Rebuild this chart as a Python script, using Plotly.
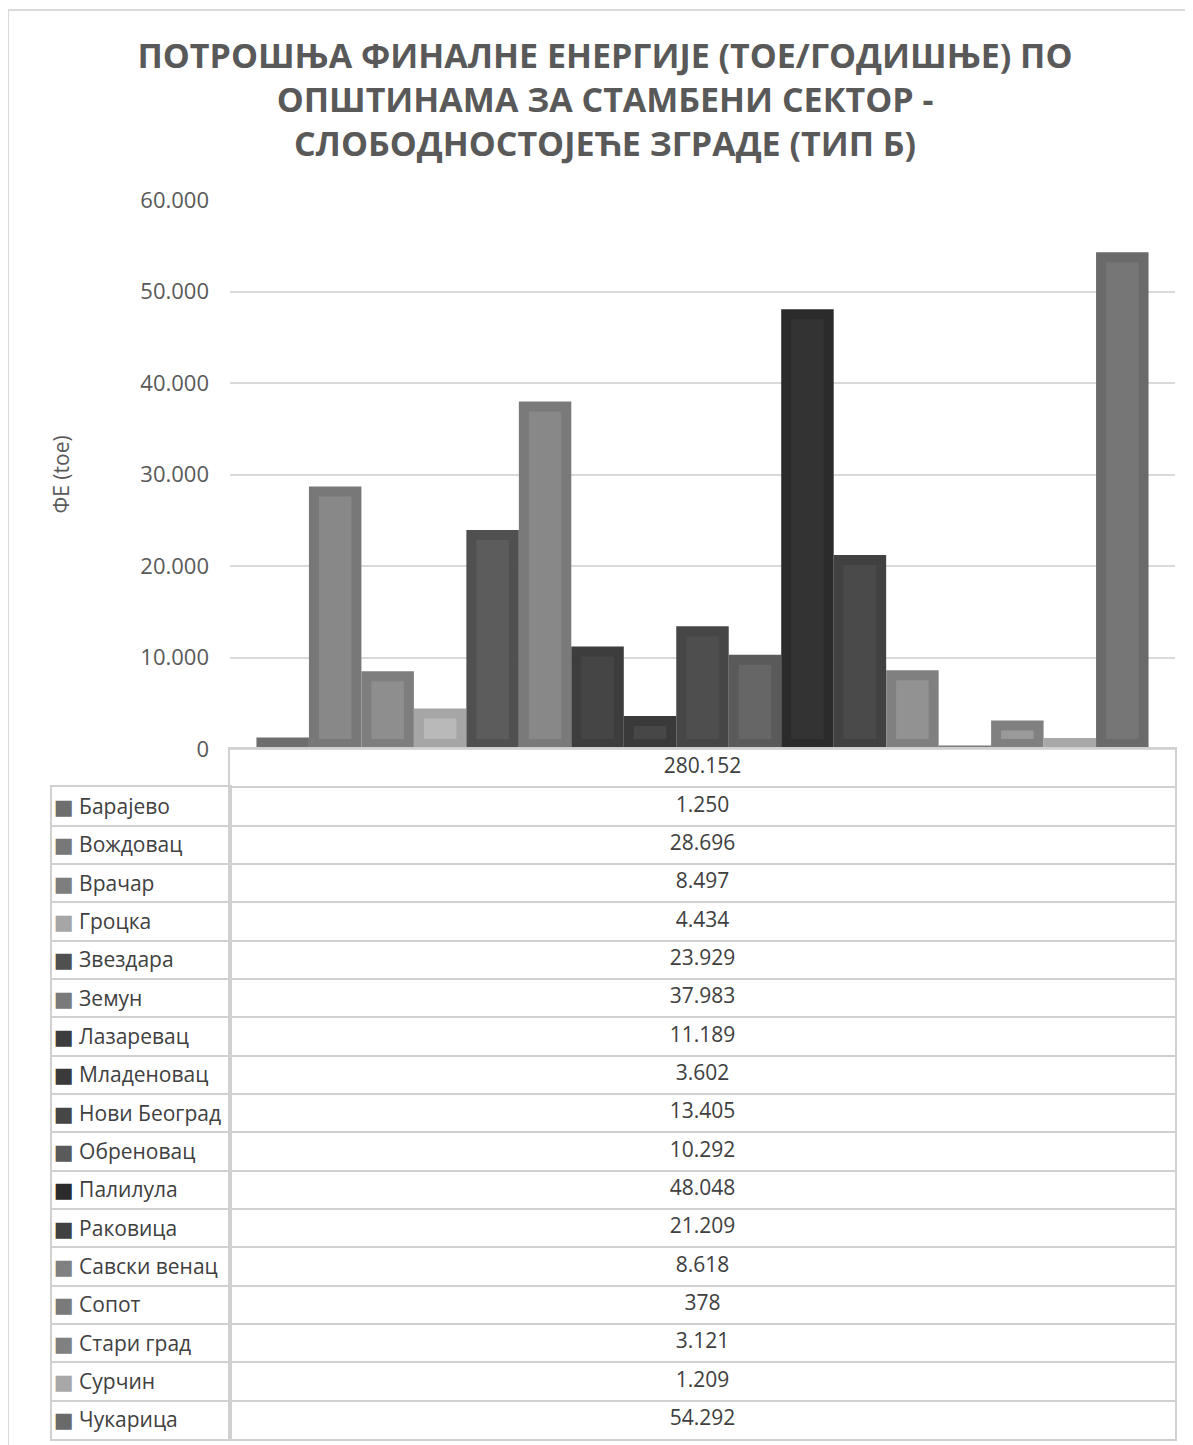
"""
Final energy consumption by municipality - detached houses (type B)
"""

import plotly.graph_objects as go

# =======================================
# Data
# =======================================

CATEGORY = "280.152"

MUNICIPALITIES = [
    "Барајево", "Вождовац", "Врачар", "Гроцка", "Звездара", "Земун",
    "Лазаревац", "Младеновац", "Нови Београд", "Обреновац", "Палилула",
    "Раковица", "Савски венац", "Сопот", "Стари град", "Сурчин", "Чукарица",
]

CONSUMPTION_TOE = [
    1250, 28696, 8497, 4434, 23929, 37983, 11189, 3602, 13405,
    10292, 48048, 21209, 8618, 378, 3121, 1209, 54292,
]

Y_TICKS = [0, 10000, 20000, 30000, 40000, 50000, 60000]

# frame colour and fill colour of each bar
EDGE_COLORS = [
    "#6e6e6e", "#787878", "#7e7e7e", "#a6a6a6", "#505050", "#7a7a7a",
    "#3d3d3d", "#3a3a3a", "#464646", "#5a5a5a", "#2b2b2b", "#414141",
    "#808080", "#7a7a7a", "#808080", "#a8a8a8", "#6a6a6a",
]
FILL_COLORS = [
    "#6e6e6e", "#888888", "#8e8e8e", "#b9b9b9", "#5c5c5c", "#888888",
    "#454545", "#474747", "#4e4e4e", "#666666", "#333333", "#4a4a4a",
    "#929292", "#7a7a7a", "#9a9a9a", "#a8a8a8", "#767676",
]

# page is 1193x1445, the browser adds an 8px body margin
PAGE_OFFSET = 8
W, H = 1193 - PAGE_OFFSET, 1445 - PAGE_OFFSET


def px_x(p):
    return (p - PAGE_OFFSET) / W


def px_y(p):
    return 1 - (p - PAGE_OFFSET) / H


def fmt(v):
    return f"{v:,}".replace(",", ".")


# layout geometry in page px
PLOT_L, PLOT_R = 230, 1175
PLOT_T, PLOT_B = 200, 749
TABLE_L, TABLE_B = 52, 1439
ROW_H = (TABLE_B - PLOT_B) / (len(MUNICIPALITIES) + 1)

Y_MAX = Y_TICKS[-1]
BARGAP = 0.056
FRAME_PX = 10
frame_y = FRAME_PX * Y_MAX / (PLOT_B - PLOT_T)
frame_x = FRAME_PX / (PLOT_R - PLOT_L)
bar_w = (1 - BARGAP) / len(MUNICIPALITIES)

TEXT = "#404040"
AXIS_TEXT = "#595959"
GRID = "#d9d9d9"
TABLE_LINE = "#d0d0d0"
FONT = "Open Sans, Noto Sans, DejaVu Sans"

fig = go.Figure()

# =======================================
# Bars (outer frame)
# =======================================

for name, value, edge in zip(MUNICIPALITIES, CONSUMPTION_TOE, EDGE_COLORS):

    fig.add_trace(
        go.Bar(
            x=[CATEGORY],
            y=[value],
            name=name,
            marker=dict(color=edge, line=dict(width=0)),
            showlegend=False,
            xaxis="x",
            yaxis="y",
            hovertemplate=name + ": %{y:,}<extra></extra>",
        )
    )

# =======================================
# Bars (inner fill)
# =======================================

for name, value, fill in zip(MUNICIPALITIES, CONSUMPTION_TOE, FILL_COLORS):

    inner = value - 2 * frame_y
    fig.add_trace(
        go.Bar(
            x=[CATEGORY],
            y=[inner if inner > 0 else 0],
            base=frame_y,
            width=bar_w - 2 * frame_x,
            marker=dict(color=fill, line=dict(width=0)),
            showlegend=False,
            xaxis="x2",
            yaxis="y",
            hoverinfo="skip",
        )
    )

# =======================================
# Data table - value column
# =======================================

table_rows = [CATEGORY] + MUNICIPALITIES
table_text = [CATEGORY] + [fmt(v) for v in CONSUMPTION_TOE]

fig.add_trace(
    go.Scatter(
        x=[0.5] * len(table_rows),
        y=table_rows,
        mode="text",
        text=table_text,
        textposition="middle center",
        textfont=dict(family=FONT, size=21, color=TEXT),
        showlegend=False,
        hoverinfo="skip",
        xaxis="x3",
        yaxis="y3",
    )
)

# =======================================
# Data table - legend column
# =======================================

fig.add_trace(
    go.Scatter(
        x=[0.5] * len(MUNICIPALITIES),
        y=MUNICIPALITIES,
        mode="markers",
        marker=dict(opacity=0),
        showlegend=False,
        hoverinfo="skip",
        xaxis="x4",
        yaxis="y4",
    )
)

legend_labels = [
    f'<span style="color:{c}">■</span> {n}'
    for n, c in zip(MUNICIPALITIES, EDGE_COLORS)
]

table_axis = dict(
    showgrid=True,
    gridcolor=TABLE_LINE,
    gridwidth=2,
    showline=True,
    mirror=True,
    linecolor=TABLE_LINE,
    linewidth=2,
    automargin=False,
)

fig.update_layout(
    width=W,
    height=H,
    template="none",
    margin=dict(l=0, r=0, t=0, b=0, autoexpand=False),
    paper_bgcolor="white",
    plot_bgcolor="rgba(0,0,0,0)",
    separators=",.",
    barmode="group",
    bargap=BARGAP,
    bargroupgap=0,
    font=dict(family=FONT, color=TEXT),
    title=dict(
        text="<b>ПОТРОШЊА ФИНАЛНЕ ЕНЕРГИЈЕ (ТОЕ/ГОДИШЊЕ) ПО<br>"
             "ОПШТИНАМА ЗА СТАМБЕНИ СЕКТОР -<br>"
             "СЛОБОДНОСТОЈЕЋЕ ЗГРАДЕ (ТИП Б)</b>",
        x=px_x(605),
        xanchor="center",
        y=px_y(68),
        yanchor="top",
        yref="container",
        font=dict(family=FONT, size=34, color=AXIS_TEXT),
    ),
    xaxis=dict(
        type="category",
        domain=[px_x(PLOT_L), px_x(PLOT_R)],
        range=[-0.5, 0.5],
        showticklabels=False,
        showgrid=False,
        showline=False,
        zeroline=False,
        ticks="",
        automargin=False,
        anchor="y",
    ),
    xaxis2=dict(
        type="category",
        overlaying="x",
        range=[-0.5, 0.5],
        visible=False,
        automargin=False,
        anchor="y",
    ),
    yaxis=dict(
        domain=[px_y(PLOT_B), px_y(PLOT_T)],
        range=[0, Y_MAX],
        tickvals=Y_TICKS,
        tickformat=",",
        ticks="",
        tickfont=dict(size=22, color=AXIS_TEXT),
        ticklabelstandoff=20,
        showgrid=True,
        gridcolor=GRID,
        gridwidth=2,
        zeroline=True,
        zerolinecolor=GRID,
        zerolinewidth=2,
        showline=False,
        automargin=False,
        anchor="x",
    ),
    xaxis3=dict(
        domain=[px_x(PLOT_L), px_x(PLOT_R)],
        range=[0, 1],
        showticklabels=False,
        ticks="",
        zeroline=False,
        anchor="y3",
        **{**table_axis, "showgrid": False},
    ),
    yaxis3=dict(
        type="category",
        domain=[px_y(TABLE_B), px_y(PLOT_B)],
        categoryorder="array",
        categoryarray=table_rows,
        range=[len(table_rows) - 0.5, -0.5],
        tickson="boundaries",
        showticklabels=False,
        ticks="",
        anchor="x3",
        **table_axis,
    ),
    xaxis4=dict(
        domain=[px_x(TABLE_L), px_x(PLOT_L)],
        range=[0, 1],
        showticklabels=False,
        ticks="",
        zeroline=False,
        anchor="y4",
        **{**table_axis, "showgrid": False},
    ),
    yaxis4=dict(
        type="category",
        domain=[px_y(TABLE_B), px_y(PLOT_B + ROW_H)],
        categoryorder="array",
        categoryarray=MUNICIPALITIES,
        tickvals=MUNICIPALITIES,
        ticktext=legend_labels,
        range=[len(MUNICIPALITIES) - 0.5, -0.5],
        tickson="boundaries",
        ticks="",
        ticklabelposition="inside",
        ticklabelstandoff=3,
        tickfont=dict(size=21, color=TEXT),
        anchor="x4",
        **table_axis,
    ),
    annotations=[
        dict(
            text="ΦE (toe)",
            x=px_x(60),
            y=px_y((PLOT_T + PLOT_B) / 2),
            xref="paper",
            yref="paper",
            xanchor="center",
            yanchor="middle",
            textangle=-90,
            showarrow=False,
            font=dict(size=21, color=AXIS_TEXT),
        )
    ],
    shapes=[
        dict(
            type="rect",
            xref="paper",
            yref="paper",
            x0=px_x(8),
            y0=-0.02,
            x1=1.02,
            y1=px_y(10),
            line=dict(color=GRID, width=2),
            fillcolor="rgba(0,0,0,0)",
            layer="below",
        )
    ],
)

fig.write_html("out.html")
